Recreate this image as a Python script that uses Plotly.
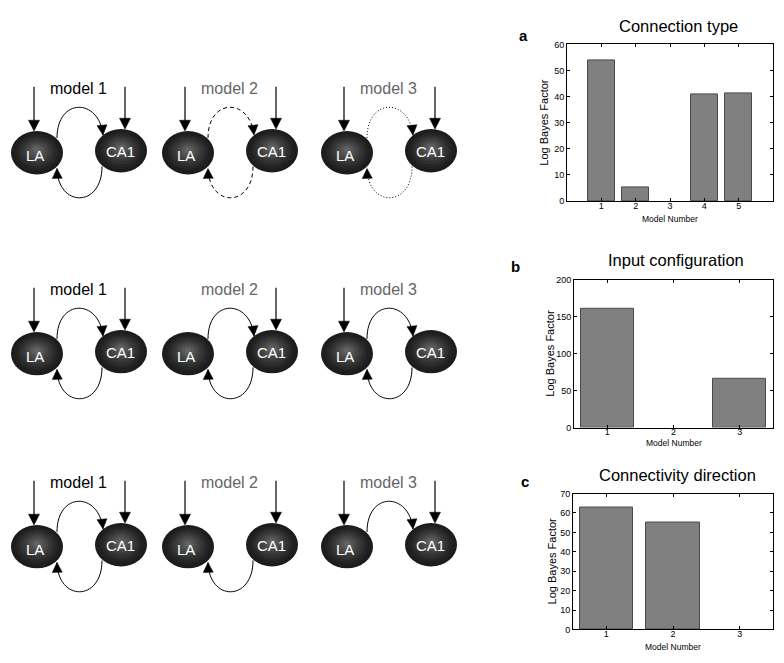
import math
import plotly.graph_objects as go

# ---------------- data ----------------
models_a = ["1", "2", "3", "4", "5"]
bf_a = [54.0, 5.3, 0.0, 40.8, 41.1]

models_b = ["1", "2", "3"]
bf_b = [161.0, 0.0, 66.5]

models_c = ["1", "2", "3"]
bf_c = [63.0, 55.0, 0.0]

panel_titles = ["Connection type", "Input configuration", "Connectivity direction"]
panel_letters = ["a", "b", "c"]
x_axis_title = "Model Number"
y_axis_title = "Log Bayes Factor"

model_names = ["model 1", "model 2", "model 3"]
node_names = ["LA", "CA1"]

# diagram structure (row 1: connection type, row 2: input configuration, row 3: direction)
row1_link_kind = ["solid", "dashed", "dotted"]
row2_input_la = [True, False, True]
row2_input_ca1 = [True, True, False]
row3_forward = [True, False, True]    # LA -> CA1
row3_backward = [True, True, False]   # CA1 -> LA

# ---------------- layout constants ----------------
W, H = 784, 663
FONT = "Liberation Sans, Arial, Helvetica, sans-serif"
DASHES = {"solid": "solid", "dashed": "4px,3px", "dotted": "1px,2px"}
NAME_COLORS = ["#000000", "#666666", "#666666"]
ROW_Y = [150, 354, 550]
COL_X = [37, 188, 347]
CA1_DX, CA1_DY = 84, -2
RX, RY = 26, 22


def fx(px):
    return px / W


def fy(py):
    return 1 - py / H


fig = go.Figure()

# ---------------- bar panels ----------------
panels = [
    dict(cats=models_a, vals=bf_a, xd=(567, 773), yd=(40, 199), yr=[0, 60], dt=10, xr=[0, 6]),
    dict(cats=models_b, vals=bf_b, xd=(574, 773), yd=(279, 429), yr=[0, 200], dt=50, xr=[0.5, 3.5]),
    dict(cats=models_c, vals=bf_c, xd=(573, 773), yd=(496, 634), yr=[0, 70], dt=10, xr=[0.5, 3.5]),
]
title_pos = [(678, 21), (676, 259), (677, 477)]
letter_pos = [(523, 31), (515, 266), (525, 484)]
xt_pos = [217, 445, 652]
yt_x = [544, 550, 552]

annotations = []


def ann(text, x, y, size, color="black", ref="paper", angle=0):
    if ref == "paper":
        x, y, xr, yr = fx(x), fy(y), "paper", "paper"
    else:
        xr, yr = "x4", "y4"
    annotations.append(dict(text=text, x=x, y=y, xref=xr, yref=yr, xanchor="center",
                            yanchor="middle", showarrow=False, textangle=angle,
                            font=dict(size=size, family=FONT, color=color)))


for i, p in enumerate(panels):
    sx = "" if i == 0 else str(i + 1)
    xs = [int(c) for c in p["cats"]]
    fig.add_trace(go.Bar(
        x=xs, y=p["vals"], width=0.8,
        marker=dict(color="#808080",
                    line=dict(color="#4a4a4a", width=[1 if v > 0 else 0 for v in p["vals"]])),
        xaxis="x" + sx, yaxis="y" + sx, showlegend=False, hoverinfo="skip",
    ))
    common = dict(showline=True, linecolor="black", linewidth=1, mirror="ticks",
                  ticks="inside", ticklen=3, tickcolor="black", showgrid=False,
                  zeroline=False, tickfont=dict(size=9, family=FONT, color="black"))
    fig.layout["xaxis" + sx] = dict(
        domain=[fx(p["xd"][0]), fx(p["xd"][1])], range=p["xr"], anchor="y" + sx,
        tickvals=xs, ticktext=p["cats"], ticklabelstandoff=-4, **common)
    fig.layout["yaxis" + sx] = dict(
        domain=[fy(p["yd"][1]), fy(p["yd"][0])], range=p["yr"], anchor="x" + sx,
        dtick=p["dt"], tick0=0, **common)
    cx = (p["xd"][0] + p["xd"][1]) / 2
    cy = (p["yd"][0] + p["yd"][1]) / 2
    ann(panel_titles[i], title_pos[i][0], title_pos[i][1], 16.5)
    ann("<b>%s</b>" % panel_letters[i], letter_pos[i][0], letter_pos[i][1], 15)
    ann(x_axis_title, cx, xt_pos[i], 8.5)
    ann(y_axis_title, yt_x[i], cy, 11, angle=-90)

# ---------------- diagram axis (pixel units) ----------------
DW = 490
fig.add_trace(go.Scatter(x=[None], y=[None], xaxis="x4", yaxis="y4",
                         showlegend=False, hoverinfo="skip"))
fig.layout["xaxis4"] = dict(domain=[0, fx(DW)], range=[0, DW], visible=False, anchor="y4")
fig.layout["yaxis4"] = dict(domain=[0, 1], range=[H, 0], visible=False, anchor="x4")

shapes = []


def node(cx, cy):
    n = 9
    for k in range(n):
        f = k / (n - 1)
        s = 1 - 0.88 * f
        g = int(28 + (100 - 28) * f ** 1.3)
        oy = -3 * f
        shapes.append(dict(type="circle", xref="x4", yref="y4",
                           x0=cx - RX * s, x1=cx + RX * s,
                           y0=cy + oy - RY * s, y1=cy + oy + RY * s,
                           fillcolor="rgb(%d,%d,%d)" % (g, g, g), line=dict(width=0),
                           layer="above"))


def head(tip, direction, length=10, half=5):
    dx, dy = direction
    L = math.hypot(dx, dy)
    ux, uy = dx / L, dy / L
    bx, by = tip[0] - ux * length, tip[1] - uy * length
    px, py = -uy, ux
    path = "M %.2f %.2f L %.2f %.2f L %.2f %.2f Z" % (
        tip[0], tip[1], bx + px * half, by + py * half, bx - px * half, by - py * half)
    shapes.append(dict(type="path", xref="x4", yref="y4", path=path,
                       fillcolor="black", line=dict(color="black", width=0.5), layer="above"))


def input_arrow(x, ytop, ytip):
    shapes.append(dict(type="line", xref="x4", yref="y4", x0=x, x1=x, y0=ytop, y1=ytip - 8,
                       line=dict(color="black", width=1.2), layer="above"))
    head((x, ytip), (0, 1), length=11, half=5.5)


def arc(ox, oy, pts, kind):
    (x0, y0), (x1, y1), (x2, y2), (x3, y3) = [(ox + a, oy + b) for a, b in pts]
    path = "M %.1f %.1f C %.1f %.1f, %.1f %.1f, %.1f %.1f" % (x0, y0, x1, y1, x2, y2, x3, y3)
    shapes.append(dict(type="path", xref="x4", yref="y4", path=path,
                       line=dict(color="black", width=1, dash=DASHES[kind]), layer="above"))
    head((x3, y3), (x3 - x2, y3 - y2), length=10, half=5)


TOP_ARC = [(20, -15), (20, -56), (62, -56), (66, -18)]
BOT_ARC = [(65, 14), (65, 56), (21, 56), (20, 16)]

for r in range(3):
    for c in range(3):
        lx, ly = COL_X[c], ROW_Y[r]
        kx, ky = lx + CA1_DX, ly + CA1_DY
        kind = row1_link_kind[c] if r == 0 else "solid"
        in_la = row2_input_la[c] if r == 1 else True
        in_ca = row2_input_ca1[c] if r == 1 else True
        fwd = row3_forward[c] if r == 2 else True
        bwd = row3_backward[c] if r == 2 else True

        node(lx, ly)
        node(kx, ky)
        if in_la:
            input_arrow(lx - 3, ly - 67, ly - 22)
        if in_ca:
            input_arrow(kx + 4, ly - 67, ky - 22)
        if fwd:
            arc(lx, ly, TOP_ARC, kind)
        if bwd:
            arc(lx, ly, BOT_ARC, kind)

        ann(node_names[0], lx - 2, ly + 3, 15, color="white", ref="x4")
        ann(node_names[1], kx - 1, ky + 1, 15, color="white", ref="x4")
        ann(model_names[c], lx + 41, ly - 65, 16, color=NAME_COLORS[c], ref="x4")

fig.update_layout(
    width=W, height=H, margin=dict(l=0, r=0, t=0, b=0),
    paper_bgcolor="white", plot_bgcolor="white",
    shapes=shapes, annotations=annotations, showlegend=False, bargap=0,
)

fig.write_html("out.html", config={"displayModeBar": False},
               post_script="document.body.style.margin='0';document.body.style.overflow='hidden';")
